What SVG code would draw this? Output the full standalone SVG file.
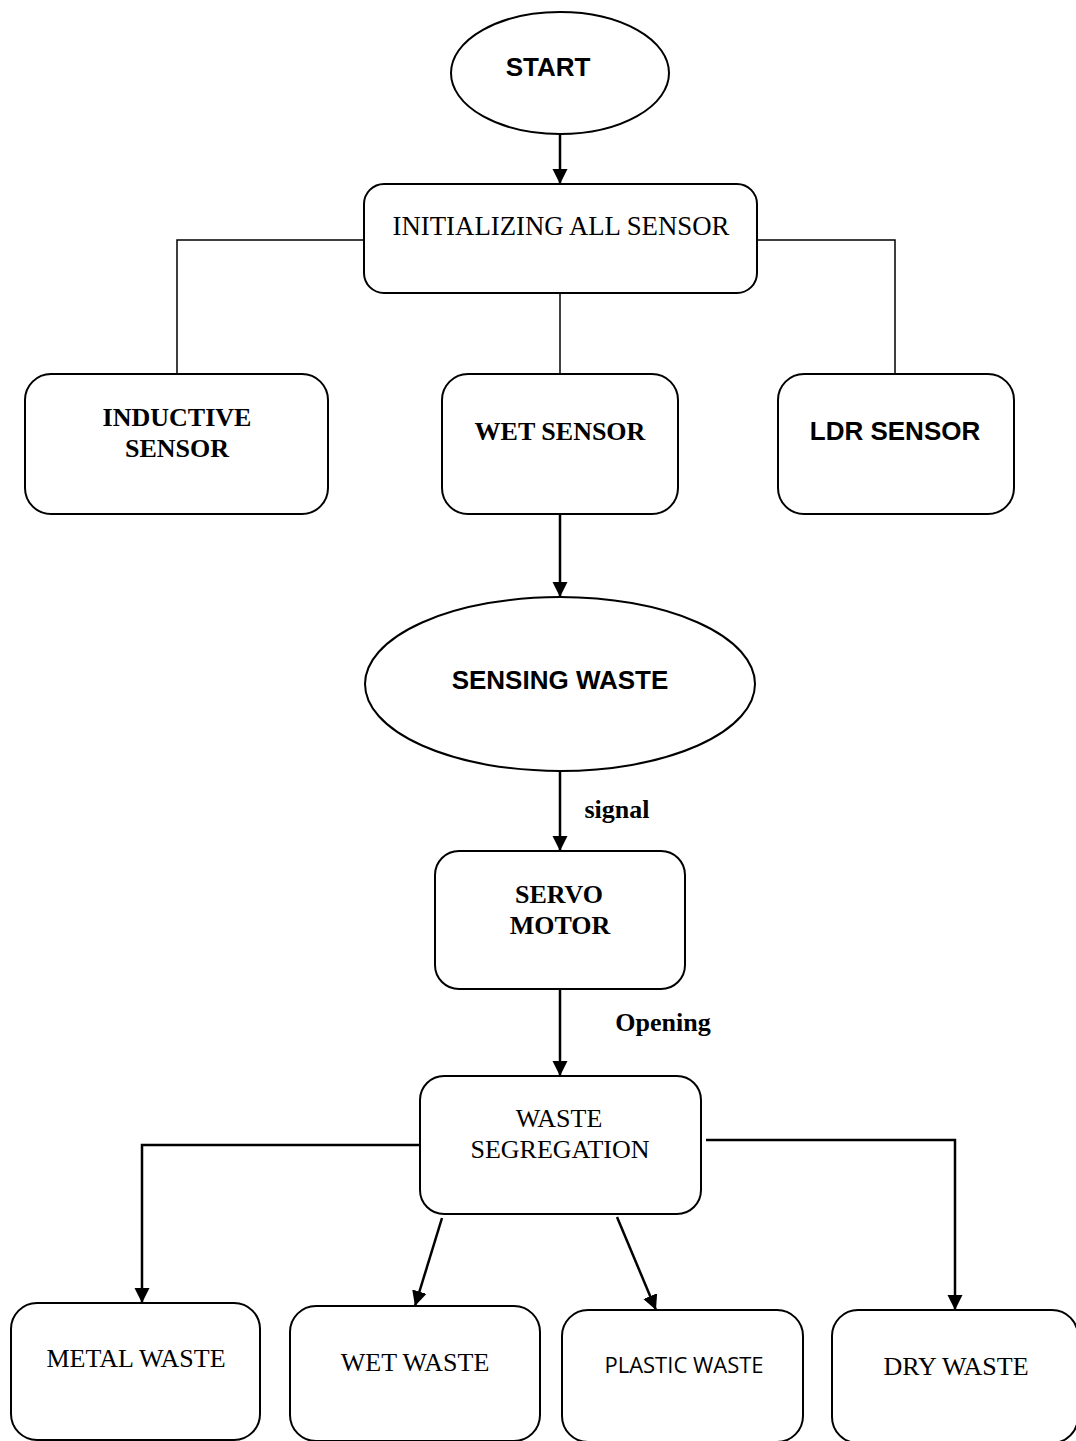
<svg xmlns="http://www.w3.org/2000/svg" width="1076" height="1441" viewBox="0 0 1076 1441">
<style>
.box{fill:#fff;stroke:#000;stroke-width:2}
.ln{fill:none;stroke:#000;stroke-width:2.5}
.thin{fill:none;stroke:#000;stroke-width:1.5}
.ts{font-family:"Liberation Serif","Times New Roman",serif;font-size:26px;fill:#000;text-anchor:middle}
.tb{font-family:"Liberation Serif","Times New Roman",serif;font-size:26px;font-weight:bold;fill:#000;text-anchor:middle}
.ab{font-family:"Liberation Sans",Arial,sans-serif;font-size:26px;font-weight:bold;fill:#000;text-anchor:middle}
.cal{font-family:"Open Sans","Liberation Sans",sans-serif;font-size:22px;fill:#000;text-anchor:middle}
</style>
<defs>
<marker id="arr" markerUnits="userSpaceOnUse" markerWidth="16" markerHeight="16" viewBox="0 0 16 16" refX="15" refY="8" orient="auto">
<path d="M0,0.5 L15,8 L0,15.5 Z" fill="#000"/>
</marker>
</defs>
<g id="connectors">
<line class="ln" x1="560" y1="135" x2="560" y2="184" marker-end="url(#arr)"/>
<polyline class="thin" points="364,240 177,240 177,374"/>
<line class="thin" x1="560" y1="293" x2="560" y2="374"/>
<polyline class="thin" points="757,240 895,240 895,374"/>
<line class="ln" x1="560" y1="515" x2="560" y2="597" marker-end="url(#arr)"/>
<line class="ln" x1="560" y1="772" x2="560" y2="851" marker-end="url(#arr)"/>
<line class="ln" x1="560" y1="989" x2="560" y2="1076" marker-end="url(#arr)"/>
<polyline class="ln" points="419,1145 142,1145 142,1303" marker-end="url(#arr)"/>
<line class="ln" x1="442" y1="1218" x2="415" y2="1306" marker-end="url(#arr)"/>
<line class="ln" x1="617" y1="1217" x2="656" y2="1310" marker-end="url(#arr)"/>
<polyline class="ln" points="706,1140 955,1140 955,1310" marker-end="url(#arr)"/>
</g>
<g id="start">
<ellipse class="box" cx="560" cy="73" rx="109" ry="61"/>
<text class="ab" x="548" y="76">START</text>
</g>
<g id="init">
<rect class="box" x="364" y="184" width="393" height="109" rx="20"/>
<text class="ts" x="561" y="235" style="font-size:26.8px">INITIALIZING ALL SENSOR</text>
</g>
<g id="inductive">
<rect class="box" x="25" y="374" width="303" height="140" rx="26"/>
<text class="tb" x="177" y="426">INDUCTIVE</text>
<text class="tb" x="177" y="457">SENSOR</text>
</g>
<g id="wetsensor">
<rect class="box" x="442" y="374" width="236" height="140" rx="26"/>
<text class="tb" x="560" y="440">WET SENSOR</text>
</g>
<g id="ldr">
<rect class="box" x="778" y="374" width="236" height="140" rx="26"/>
<text class="ab" x="895" y="440">LDR SENSOR</text>
</g>
<g id="sensing">
<ellipse class="box" cx="560" cy="684" rx="195" ry="87"/>
<text class="ab" x="560" y="689">SENSING WASTE</text>
</g>
<text class="tb" x="617" y="818">signal</text>
<g id="servo">
<rect class="box" x="435" y="851" width="250" height="138" rx="24"/>
<text class="tb" x="559" y="903">SERVO</text>
<text class="tb" x="560" y="934">MOTOR</text>
</g>
<text class="tb" x="663" y="1031">Opening</text>
<g id="segregation">
<rect class="box" x="420" y="1076" width="281" height="138" rx="24"/>
<text class="ts" x="559" y="1127">WASTE</text>
<text class="ts" x="560" y="1158">SEGREGATION</text>
</g>
<g id="metal">
<rect class="box" x="11" y="1303" width="249" height="137" rx="26"/>
<text class="ts" x="136" y="1367">METAL WASTE</text>
</g>
<g id="wetwaste">
<rect class="box" x="290" y="1306" width="250" height="135" rx="26"/>
<text class="ts" x="415" y="1371">WET WASTE</text>
</g>
<g id="plastic">
<rect class="box" x="562" y="1310" width="241" height="132" rx="26"/>
<text class="cal" x="684" y="1373">PLASTIC WASTE</text>
</g>
<g id="dry">
<rect class="box" x="832" y="1310" width="246" height="133" rx="26"/>
<text class="ts" x="956" y="1375">DRY WASTE</text>
</g>
</svg>
